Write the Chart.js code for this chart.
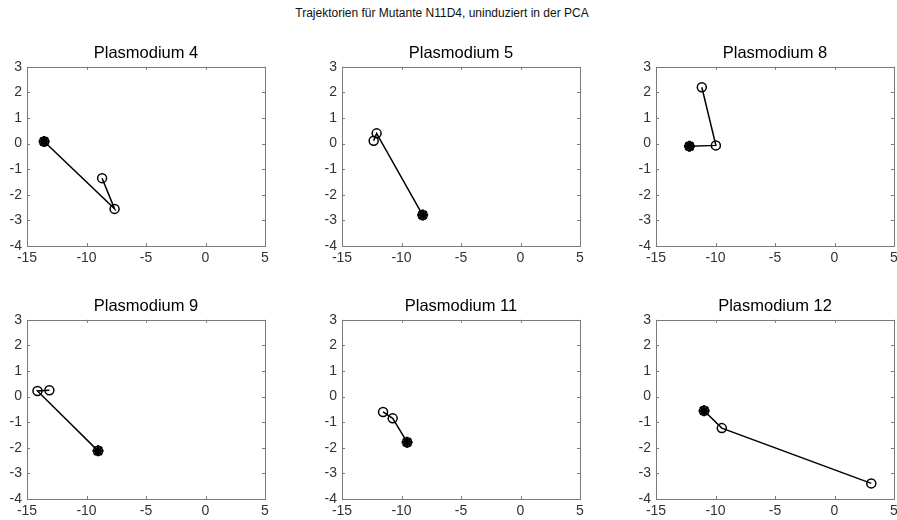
<!DOCTYPE html>
<html>
<head>
<meta charset="utf-8">
<script src="https://cdn.jsdelivr.net/npm/chart.js@4"></script>
<style>
  body { margin: 0; background: #fff; overflow: hidden; }
  #wrap { position: relative; width: 897px; height: 520px; }
  #suptitle { position: absolute; left: 0; top: 6px; width: 884px; text-align: center;
    font: 12px "Liberation Sans", Arial, sans-serif; line-height: 14px; color: #111; }
  .panel { position: absolute; }
</style>
</head>
<body>
<div id="wrap">
  <div id="suptitle">Trajektorien für Mutante N11D4, uninduziert in der PCA</div>
</div>
<script>
const titles = ['Plasmodium 4', 'Plasmodium 5', 'Plasmodium 8', 'Plasmodium 9', 'Plasmodium 11', 'Plasmodium 12'];

// trajectories, first point = start (star marker)
const trajX = [
  [-13.56, -7.64, -8.69],
  [-8.22, -12.09, -12.34],
  [-12.19, -9.97, -11.15],
  [-9.03, -14.12, -13.12],
  [-9.53, -10.74, -11.55],
  [-10.96, -9.47, 3.09]
];
const trajY = [
  [0.08, -2.55, -1.35],
  [-2.79, 0.40, 0.11],
  [-0.10, -0.07, 2.20],
  [-2.12, 0.22, 0.25],
  [-1.78, -0.85, -0.60],
  [-0.55, -1.23, -3.39]
];

const xTicks = [-15, -10, -5, 0, 5];
const yTicks = [-4, -3, -2, -1, 0, 1, 2, 3];

// plot area positions (left, top, width, height)
const colLeft = [27, 342, 656];
const rowTop = [67, 320];
const plotW = 238, plotH = 179;

const FONT = '"Liberation Sans", Arial, sans-serif';

// MATLAB-like box with inward ticks
const boxTicks = {
  id: 'boxTicks',
  beforeDatasetsDraw(chart) {
    const ctx = chart.ctx, a = chart.chartArea;
    const xs = chart.scales.x, ys = chart.scales.y;
    const len = 3;
    ctx.save();
    ctx.strokeStyle = '#7a7a7a';
    ctx.lineWidth = 1;
    ctx.strokeRect(Math.round(a.left) + 0.5, Math.round(a.top) + 0.5,
      Math.round(a.right - a.left), Math.round(a.bottom - a.top));
    ctx.beginPath();
    xTicks.forEach(v => {
      const px = Math.round(xs.getPixelForValue(v)) + 0.5;
      ctx.moveTo(px, a.bottom); ctx.lineTo(px, a.bottom - len);
      ctx.moveTo(px, a.top); ctx.lineTo(px, a.top + len);
    });
    yTicks.forEach(v => {
      const py = Math.round(ys.getPixelForValue(v)) + 0.5;
      ctx.moveTo(a.left, py); ctx.lineTo(a.left + len, py);
      ctx.moveTo(a.right, py); ctx.lineTo(a.right - len, py);
    });
    ctx.stroke();
    ctx.restore();
  }
};

const wrap = document.getElementById('wrap');

titles.forEach((title, i) => {
  const L = colLeft[i % 3], T = rowTop[Math.floor(i / 3)];
  const div = document.createElement('div');
  div.className = 'panel';
  div.style.left = (L - 45) + 'px';
  div.style.top = (T - 30) + 'px';
  div.style.width = (plotW + 60) + 'px';
  div.style.height = (plotH + 60) + 'px';
  const canvas = document.createElement('canvas');
  div.appendChild(canvas);
  wrap.appendChild(div);

  const pts = trajX[i].map((x, k) => ({ x: x, y: trajY[i][k] }));

  new Chart(canvas, {
    type: 'scatter',
    data: {
      datasets: [
        {
          data: pts,
          showLine: true,
          borderColor: '#000',
          borderWidth: 1.5,
          pointStyle: 'circle',
          pointRadius: 4.5,
          pointBorderWidth: 1.5,
          pointBorderColor: '#000',
          pointBackgroundColor: 'rgba(0,0,0,0)'
        },
        {
          data: [pts[0]],
          pointStyle: 'star',
          pointRadius: 5.5,
          pointBorderWidth: 2.5,
          pointBorderColor: '#000',
          pointBackgroundColor: '#000'
        }
      ]
    },
    options: {
      responsive: true,
      maintainAspectRatio: false,
      animation: false,
      events: [],
      layout: { padding: { left: 5, right: 15, top: 0, bottom: 0 } },
      scales: {
        x: {
          type: 'linear',
          min: -15, max: 5,
          afterFit(scale) { scale.height = 30; },
          afterBuildTicks(scale) { scale.ticks = xTicks.map(v => ({ value: v })); },
          grid: { display: false, drawTicks: false },
          border: { display: false },
          ticks: { padding: 4, color: '#333', font: { family: FONT, size: 14 }, maxRotation: 0 }
        },
        y: {
          type: 'linear',
          min: -4, max: 3,
          afterFit(scale) { scale.width = 40; },
          afterBuildTicks(scale) { scale.ticks = yTicks.map(v => ({ value: v })); },
          grid: { display: false, drawTicks: false },
          border: { display: false },
          ticks: { padding: 5, color: '#333', font: { family: FONT, size: 14 } }
        }
      },
      plugins: {
        legend: { display: false },
        tooltip: { enabled: false },
        title: {
          display: true,
          text: title,
          fullSize: false,
          color: '#000',
          font: { family: FONT, size: 16.5, weight: 'normal', lineHeight: 1.2 },
          padding: { top: 7, bottom: 3 }
        }
      }
    },
    plugins: [boxTicks]
  });
});
</script>
</body>
</html>
